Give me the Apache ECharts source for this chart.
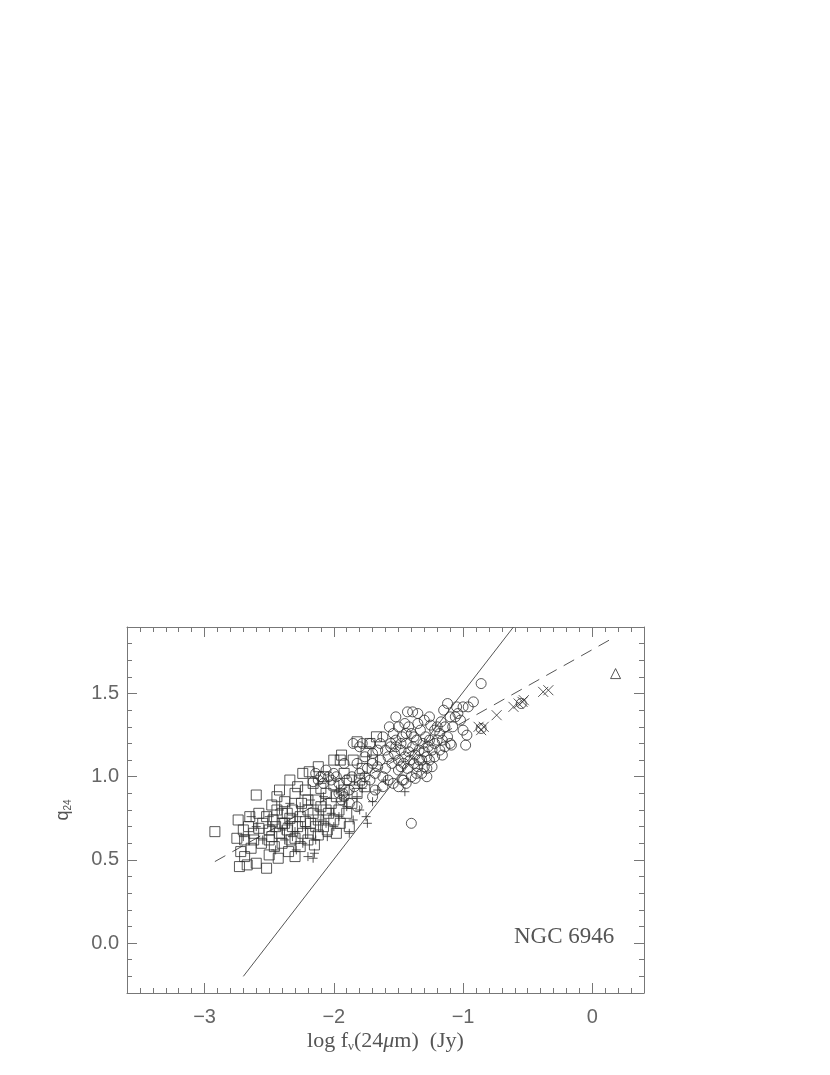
<!DOCTYPE html>
<html>
<head>
<meta charset="utf-8">
<script src="https://cdn.jsdelivr.net/npm/echarts@6/dist/echarts.min.js"></script>
<style>html,body{margin:0;padding:0;background:#fff;}#c{width:830px;height:1075px;}</style>
</head>
<body>
<div id="c"></div>
<script>
const xTicks = [-3, -2, -1, 0];
const yTicks = [0, 0.5, 1.0, 1.5];

const squares = [
[-2.92,0.67],[-2.74,0.74],[-2.65,0.76],[-2.60,0.89],[-2.75,0.63],[-2.69,0.62],
[-2.72,0.55],[-2.69,0.52],[-2.73,0.46],[-2.67,0.47],[-2.60,0.48],[-2.52,0.45],
[-2.50,0.53],[-2.62,0.66],[-2.58,0.69],[-2.55,0.72],[-2.50,0.68],[-2.47,0.74],
[-2.45,0.70],[-2.42,0.66],[-2.40,0.78],[-2.38,0.72],[-2.36,0.68],[-2.34,0.75],
[-2.32,0.80],[-2.30,0.63],[-2.28,0.70],[-2.26,0.76],[-2.25,0.84],[-2.22,0.73],
[-2.20,0.80],[-2.18,0.66],[-2.16,0.78],[-2.14,0.86],[-2.12,0.74],[-2.10,0.82],
[-2.08,0.70],[-2.06,0.90],[-2.04,0.78],[-2.02,0.84],[-2.00,0.74],[-1.98,0.88],
[-1.96,0.80],[-2.34,0.98],[-2.24,1.02],[-2.19,1.03],[-2.00,1.10],[-1.95,1.10],
[-1.94,1.13],[-1.67,1.24],[-1.82,1.21],[-2.48,0.83],[-2.44,0.88],[-2.38,0.85],
[-2.30,0.90],[-2.28,0.94],[-2.22,0.92],[-2.16,0.96],[-2.10,0.93],[-2.30,0.52],
[-2.15,0.59],[-2.40,0.60],[-2.46,0.58],[-2.56,0.60],[-2.64,0.57],[-2.35,0.55],
[-2.43,0.51],[-2.20,0.62],[-2.12,0.65],[-2.05,0.68],[-1.95,0.72],[-1.90,0.78],
[-1.86,0.84],[-1.82,0.90],[-1.80,0.98],[-1.78,1.05],[-1.85,1.10],[-1.92,1.02],
[-2.08,1.00],[-1.75,1.15],[-1.72,1.20],[-2.58,0.78],[-2.66,0.70],[-2.70,0.68],
[-2.62,0.62],[-2.50,0.62],[-2.48,0.64],[-2.33,0.62],[-2.26,0.58],[-2.18,0.72],
[-2.00,0.95],[-1.98,0.66],[-1.88,0.70],[-2.24,0.66],[-2.40,0.72],[-2.32,0.70],
[-2.14,0.70],[-2.52,0.76],[-2.44,0.80],[-2.36,0.78],[-2.20,0.86],[-2.06,0.80],
[-1.92,0.92],[-1.88,0.98],[-2.12,1.06],[-1.70,1.10],[-1.76,0.94],[-2.42,0.92]
];

const pluses = [
[-2.20,0.52],[-2.16,0.51],[-2.05,0.64],[-1.74,0.72],[-1.75,0.76],[-1.45,0.91],
[-2.29,0.56],[-2.45,0.56],[-2.38,0.62],[-2.30,0.67],[-2.22,0.70],[-2.14,0.62],
[-2.10,0.74],[-2.02,0.78],[-1.96,0.76],[-1.90,0.82],[-1.85,0.74],[-1.80,0.80],
[-1.70,0.85],[-2.55,0.62],[-2.60,0.70],[-2.50,0.76],[-2.42,0.80],[-2.34,0.84],
[-2.26,0.82],[-2.18,0.86],[-2.08,0.88],[-1.98,0.92],[-1.92,0.86],[-2.64,0.76],
[-2.70,0.64],[-2.36,0.72],[-2.28,0.76],[-2.12,0.80],[-2.00,0.70],[-1.88,0.66],
[-2.24,0.60],[-2.48,0.70],[-1.82,0.88],[-1.78,0.93],[-1.66,0.92],[-2.32,0.64],
[-2.06,0.72],[-2.40,0.68],[-1.60,0.98],[-2.15,0.54]
];

const circles = [
[-0.86,1.56],[-1.10,1.20],[-0.98,1.19],[-0.97,1.25],[-1.05,1.42],[-1.00,1.42],
[-0.92,1.45],[-1.06,1.36],[-1.43,1.39],[-1.39,1.39],[-1.35,1.32],[-1.22,1.12],
[-1.16,1.13],[-1.28,1.05],[-1.24,1.06],[-1.36,1.02],[-1.47,0.98],[-1.37,0.99],
[-1.40,0.72],[-1.20,1.30],[-1.17,1.33],[-1.22,1.28],[-1.25,1.31],[-1.15,1.40],
[-1.10,1.36],[-1.12,1.44],[-1.08,1.30],[-1.00,1.28],[-0.55,1.44],[-1.09,1.19],
[-1.60,1.05],[-1.58,1.12],[-1.56,1.18],[-1.55,1.08],[-1.53,1.14],[-1.52,1.22],
[-1.50,1.10],[-1.50,1.04],[-1.48,1.16],[-1.47,1.24],[-1.46,1.08],[-1.45,1.12],
[-1.44,1.20],[-1.43,1.05],[-1.42,1.15],[-1.41,1.10],[-1.40,1.26],[-1.39,1.18],
[-1.38,1.08],[-1.37,1.13],[-1.36,1.22],[-1.35,1.06],[-1.34,1.16],[-1.33,1.28],
[-1.32,1.10],[-1.31,1.20],[-1.30,1.15],[-1.29,1.24],[-1.28,1.12],[-1.27,1.18],
[-1.26,1.22],[-1.62,1.00],[-1.64,1.10],[-1.66,1.16],[-1.68,1.02],[-1.70,1.08],
[-1.72,0.98],[-1.74,1.05],[-1.76,1.12],[-1.78,0.96],[-1.80,1.02],[-1.82,1.08],
[-1.84,0.94],[-1.86,1.00],[-1.88,0.92],[-1.90,0.98],[-1.92,0.88],[-1.94,0.86],
[-1.96,0.90],[-1.98,1.00],[-2.00,1.02],[-2.02,0.98],[-2.04,1.00],[-2.06,1.04],
[-2.08,0.96],[-2.10,1.00],[-2.12,0.98],[-2.16,0.97],[-1.85,1.20],[-1.80,1.18],
[-1.72,1.20],[-1.64,1.20],[-1.57,1.30],[-1.54,1.26],[-1.50,1.30],[-1.45,1.32],
[-1.58,0.98],[-1.54,0.96],[-1.50,0.94],[-1.46,0.98],[-1.62,0.94],[-1.68,0.92],
[-1.70,0.88],[-1.82,0.82],[-1.88,0.84],[-1.93,0.90],[-1.20,1.22],[-1.18,1.26],
[-1.14,1.30],[-1.12,1.24],[-1.30,1.34],[-1.26,1.36],[-1.35,1.38],[-1.14,1.18],
[-1.28,1.00],[-1.32,1.02],[-1.40,1.00],[-1.44,0.96],[-1.56,1.20],[-1.52,1.18],
[-1.48,1.20],[-1.44,1.26],[-1.24,1.16],[-1.22,1.20],[-1.92,1.08],[-1.70,1.14],
[-1.78,1.20],[-1.62,1.24],[-1.60,1.16],[-1.66,1.06],[-1.76,1.00],[-1.96,0.96],
[-2.14,1.02],[-1.42,1.30],[-1.38,1.24],[-1.34,1.10],[-1.30,1.06],[-1.26,1.10],
[-1.18,1.16],[-1.16,1.22],[-1.04,1.38],[-0.96,1.42],[-1.02,1.34],[-0.86,1.29],
[-1.52,1.36],[-1.48,1.06]
];

const crosses = [
[-0.38,1.51],[-0.34,1.52],[-0.54,1.45],[-0.61,1.42],[-0.53,1.46],
[-0.57,1.44],[-0.74,1.37],[-0.88,1.30],[-0.84,1.30],[-0.86,1.28]
];

const triangles = [[0.18,1.62]];

const solidLine = [[-2.70,-0.20],[-0.61,1.90]];
const dashedLine = [[-2.92,0.49],[0.14,1.825]];

const xMin = -3.6, xMax = 0.4, yMin = -0.3, yMax = 1.9;
const axisColor = '#777';
const markColor = '#2e2e2e';
const tickFont = {fontFamily: 'Liberation Sans', fontSize: 20, color: '#666'};

function minusFmt(v){ return v < 0 ? '\u2212' + Math.abs(v) : String(v); }

function minorAxis(isX, pos){
  return {
    type: 'value', position: pos,
    min: isX ? xMin : yMin, max: isX ? xMax : yMax, interval: 0.1,
    axisLine: {show: true, onZero: false, lineStyle: {color: axisColor, width: 1}},
    axisTick: {show: true, inside: true, length: 5, lineStyle: {color: axisColor, width: 1}},
    axisLabel: {show: false}, splitLine: {show: false}
  };
}
function majorAxis(isX, pos, labels){
  const vals = isX ? xTicks : yTicks;
  return {
    type: 'value', position: pos,
    min: isX ? xMin : yMin, max: isX ? xMax : yMax,
    axisLine: {show: false, onZero: false},
    axisTick: {show: true, inside: true, length: 10, customValues: vals, lineStyle: {color: axisColor, width: 1}},
    axisLabel: labels ? Object.assign({show: true, customValues: vals,
        margin: isX ? 14 : 8,
        formatter: isX ? minusFmt : (v => Number(v).toFixed(1))}, tickFont) : {show: false},
    splitLine: {show: false}
  };
}

const xb = majorAxis(true, 'bottom', true);
xb.name = '{a|log f}{s|\u03bd}{a|(24}{m|\u03bc}{a|m)  (Jy)}';
xb.nameLocation = 'middle';
xb.nameGap = 37;
xb.nameTextStyle = {
  rich: {
    a: {fontFamily: 'Liberation Serif', fontSize: 22, color: '#555'},
    m: {fontFamily: 'Liberation Serif', fontSize: 22, color: '#555', fontStyle: 'italic'},
    s: {fontFamily: 'Liberation Serif', fontSize: 13, color: '#555', padding: [10, 0, 0, 0]}
  }
};

const yl = majorAxis(false, 'left', true);
yl.name = '{a|q}{s|24}';
yl.nameLocation = 'middle';
yl.nameGap = 54;
yl.nameTextStyle = {
  rich: {
    a: {fontFamily: 'Liberation Sans', fontSize: 18, color: '#555'},
    s: {fontFamily: 'Liberation Sans', fontSize: 10, color: '#555', padding: [9, 0, 0, 0]}
  }
};

const sym = (color) => ({color: 'transparent', borderColor: color, borderWidth: 1});

const option = {
  animation: false,
  backgroundColor: '#fff',
  grid: {left: 127, right: 186, top: 627, bottom: 82, containLabel: false},
  xAxis: [minorAxis(true, 'bottom'), xb, minorAxis(true, 'top'), majorAxis(true, 'top', false)],
  yAxis: [minorAxis(false, 'left'), yl, minorAxis(false, 'right'), majorAxis(false, 'right', false)],
  graphic: [{
    type: 'text', left: 514, top: 925,
    style: {text: 'NGC 6946', fontFamily: 'Liberation Serif', fontSize: 23, fill: '#555'}
  }],
  series: [
    {type: 'line', data: solidLine, symbol: 'none', xAxisIndex: 0, yAxisIndex: 0,
     lineStyle: {color: '#555', width: 1}, z: 1},
    {type: 'line', data: dashedLine, symbol: 'none', xAxisIndex: 0, yAxisIndex: 0,
     lineStyle: {color: '#555', width: 1, type: [12, 8]}, z: 1},
    {type: 'scatter', data: squares, symbol: 'rect', symbolSize: 10, itemStyle: sym(markColor)},
    {type: 'scatter', data: pluses, symbol: 'path://M5,0L5,10M0,5L10,5', symbolSize: 9, itemStyle: sym(markColor)},
    {type: 'scatter', data: circles, symbol: 'circle', symbolSize: 10, itemStyle: sym(markColor)},
    {type: 'scatter', data: crosses, symbol: 'path://M0,0L10,10M10,0L0,10', symbolSize: 10, itemStyle: sym(markColor)},
    {type: 'scatter', data: triangles, symbol: 'triangle', symbolSize: 10, itemStyle: sym(markColor)}
  ]
};

const chart = echarts.init(document.getElementById('c'), null, {renderer: 'canvas'});
chart.setOption(option);
</script>
</body>
</html>
